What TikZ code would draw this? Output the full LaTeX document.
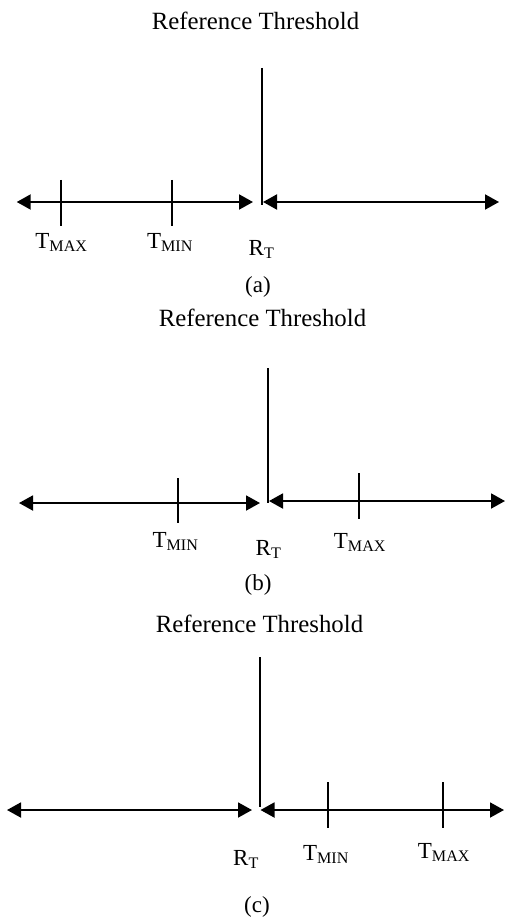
\documentclass[tikz,border=0pt]{standalone}
\usepackage{fontspec}
\setmainfont{Liberation Serif}
\usetikzlibrary{arrows.meta}

\begin{document}
\begin{tikzpicture}[x=1pt,y=-1pt,
  axis/.style={line width=1.9pt,
    {Triangle[length=14pt,width=15pt]}-{Triangle[length=14pt,width=15pt]}},
  threshold/.style={line width=1.5pt},
  tickmark/.style={line width=1.3pt},
  lbl/.style={anchor=base, inner sep=0pt, font=\fontsize{23}{27}\selectfont},
  ttl/.style={anchor=base, inner sep=0pt, font=\fontsize{24.8}{29}\selectfont}]
\useasboundingbox (0,0) rectangle (505,920);

% ---------------- (a) both limits below the threshold ----------------
\node[ttl] (titleA) at (255.5,30) {Reference Threshold};
\coordinate (vAtop) at (262,68);
\coordinate (vAbot) at (262,205);
\draw[threshold] (vAtop) -- (vAbot);
\coordinate (aL1) at (16.7,202);
\coordinate (aL2) at (253,202);
\coordinate (aR1) at (263,202);
\coordinate (aR2) at (499,202);
\draw[axis] (aL1) -- (aL2);
\draw[axis] (aR1) -- (aR2);
\coordinate (tAmaxT) at (61,180);  \coordinate (tAmaxB) at (61,226);
\coordinate (tAminT) at (172,180); \coordinate (tAminB) at (172,226);
\draw[tickmark] (tAmaxT) -- (tAmaxB);
\draw[tickmark] (tAminT) -- (tAminB);
\node[lbl] (lAmax) at (61.5,248) {T\textsubscript{MAX}};
\node[lbl] (lAmin) at (170,248) {T\textsubscript{MIN}};
\node[lbl] (lArt) at (261.5,255) {R\textsubscript{T}};
\node[lbl] (capA) at (258,292) {(a)};

% ---------------- (b) threshold between the limits ----------------
\node[ttl] (titleB) at (262.5,326) {Reference Threshold};
\coordinate (vBtop) at (268,368);
\coordinate (vBbot) at (268,503);
\draw[threshold] (vBtop) -- (vBbot);
\coordinate (bL1) at (19,503);
\coordinate (bL2) at (260,503);
\coordinate (bR1) at (269,501);
\coordinate (bR2) at (505,501);
\draw[axis] (bL1) -- (bL2);
\draw[axis] (bR1) -- (bR2);
\coordinate (tBminT) at (178,478); \coordinate (tBminB) at (178,523);
\coordinate (tBmaxT) at (359,473); \coordinate (tBmaxB) at (359,519);
\draw[tickmark] (tBminT) -- (tBminB);
\draw[tickmark] (tBmaxT) -- (tBmaxB);
\node[lbl] (lBmin) at (175.5,547) {T\textsubscript{MIN}};
\node[lbl] (lBrt) at (268.5,555) {R\textsubscript{T}};
\node[lbl] (lBmax) at (360,548) {T\textsubscript{MAX}};
\node[lbl] (capB) at (258,590) {(b)};

% ---------------- (c) both limits above the threshold ----------------
\node[ttl] (titleC) at (259.5,632) {Reference Threshold};
\coordinate (vCtop) at (260,657);
\coordinate (vCbot) at (260,807);
\draw[threshold] (vCtop) -- (vCbot);
\coordinate (cL1) at (7,810);
\coordinate (cL2) at (252,810);
\coordinate (cR1) at (260.5,810);
\coordinate (cR2) at (504,810);
\draw[axis] (cL1) -- (cL2);
\draw[axis] (cR1) -- (cR2);
\coordinate (tCminT) at (328,782); \coordinate (tCminB) at (328,828);
\coordinate (tCmaxT) at (443,782); \coordinate (tCmaxB) at (443,828);
\draw[tickmark] (tCminT) -- (tCminB);
\draw[tickmark] (tCmaxT) -- (tCmaxB);
\node[lbl] (lCrt) at (246,865) {R\textsubscript{T}};
\node[lbl] (lCmin) at (326,860) {T\textsubscript{MIN}};
\node[lbl] (lCmax) at (444,858) {T\textsubscript{MAX}};
\node[lbl] (capC) at (257,912) {(c)};
\end{tikzpicture}
\end{document}
